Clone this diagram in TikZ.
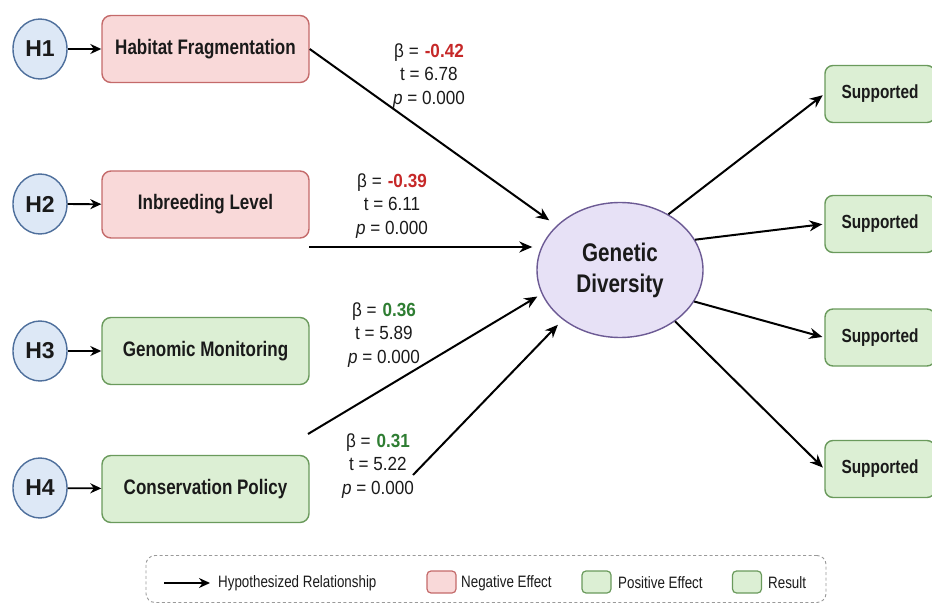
\documentclass[tikz,border=0pt]{standalone}
\usepackage{fontspec}
\setmainfont{Liberation Sans}
\newfontfamily\condf{Liberation Sans}[FakeStretch=0.81]
\newfontfamily\labf{Liberation Sans}[FakeStretch=0.9]
\usetikzlibrary{shapes.geometric,arrows.meta}
\definecolor{negfill}{HTML}{F9D9D9}
\definecolor{negdraw}{HTML}{C46A6A}
\definecolor{posfill}{HTML}{DCEFD4}
\definecolor{posdraw}{HTML}{6A9A5C}
\definecolor{hfill}{HTML}{DDE8F6}
\definecolor{hdraw}{HTML}{4E6F9C}
\definecolor{gdfill}{HTML}{E7E1F6}
\definecolor{gddraw}{HTML}{6C5A94}
\definecolor{negc}{HTML}{C62828}
\definecolor{posc}{HTML}{2E7D32}
\definecolor{txt}{HTML}{1A1A1A}
\definecolor{legdraw}{HTML}{9A9A9A}
\begin{document}
\begin{tikzpicture}[x=1pt,y=-1pt,
  hyp/.style={ellipse, draw=hdraw, fill=hfill, line width=1.4pt, minimum width=54pt, minimum height=60pt, inner sep=0pt, text=txt, font=\fontsize{23}{26}\selectfont\bfseries},
  var/.style={rectangle, rounded corners=9pt, line width=1.4pt, minimum width=207pt, minimum height=67pt, text=txt, font=\condf\fontsize{21}{25}\selectfont\bfseries},
  negbox/.style={var, draw=negdraw, fill=negfill},
  posbox/.style={var, draw=posdraw, fill=posfill},
  resbox/.style={rectangle, rounded corners=8pt, line width=1.4pt, draw=posdraw, fill=posfill, minimum width=110pt, minimum height=57pt, text=txt, font=\condf\fontsize{19}{23}\selectfont\bfseries},
  lab/.style={align=center, text=txt, font=\labf\fontsize{19}{23.5}\selectfont},
  arr/.style={-{Stealth[length=13pt,width=11pt]}, line width=2pt, black},
  sarr/.style={-{Stealth[length=11pt,width=10pt]}, line width=1.8pt, black},
  legtxt/.style={anchor=west, text=txt, inner sep=0pt, font=\condf\fontsize{16.5}{20}\selectfont},
  swatch/.style={rectangle, rounded corners=4pt, line width=1.2pt, minimum width=29pt, minimum height=22pt, inner sep=0pt}
]
\useasboundingbox (0,0) rectangle (932,604);

% hypotheses
\node[hyp] (h1) at (40,49) {H1};
\node[hyp] (h2) at (40,204) {H2};
\node[hyp] (h3) at (40,351) {H3};
\node[hyp] (h4) at (40,488) {H4};

% predictors
\node[negbox] (hf) at (205.5,49) {Habitat Fragmentation};
\node[negbox] (ib) at (205.5,204.5) {Inbreeding Level};
\node[posbox] (gm) at (205.5,351) {Genomic Monitoring};
\node[posbox] (cp) at (205.5,489) {Conservation Policy};

\draw[sarr] (h1) -- (hf);
\draw[sarr] (h2) -- (ib);
\draw[sarr] (h3) -- (gm);
\draw[sarr] (h4) -- (cp);

% outcome
\node[ellipse, draw=gddraw, fill=gdfill, line width=1.4pt, minimum width=166pt, minimum height=135pt, inner sep=0pt, align=center, text=txt, font=\condf\fontsize{25.5}{31}\selectfont\bfseries] (gd) at (620,270) {Genetic\\Diversity};

% results
\node[resbox] (s1) at (880,94) {Supported};
\node[resbox] (s2) at (880,224) {Supported};
\node[resbox] (s3) at (880,337.5) {Supported};
\node[resbox] (s4) at (880,469) {Supported};

% paths into outcome
\coordinate (c2) at (309,247);
\coordinate (c3) at (308,434);
\coordinate (c4) at (413,475);
\draw[arr, shorten >=9pt] (hf.east) -- (gd.145);
\draw[arr, shorten >=4pt] (c2) -- (c2 -| gd.west);
\draw[arr, shorten >=5pt] (c3) -- (gd.197);
\draw[arr, shorten >=7pt] (c4) -- (gd.221);

% paths to results
\draw[arr, shorten >=2pt] (gd.49) -- (s1.west);
\draw[arr, shorten >=2pt] (gd.22) -- (s2.west);
\draw[arr, shorten >=2pt] (gd.-23) -- (s3.west);
\draw[arr, shorten >=2pt] (gd.-43) -- (s4.west);

% coefficient labels
\node[lab] (l1) at (429,76) {β =\hspace{6pt}\textcolor{negc}{\textbf{-0.42}}\\t = 6.78\\\textit{p} = 0.000};
\node[lab] (l2) at (392,206) {β =\hspace{6pt}\textcolor{negc}{\textbf{-0.39}}\\t = 6.11\\\textit{p} = 0.000};
\node[lab] (l3) at (384,335) {β =\hspace{6pt}\textcolor{posc}{\textbf{0.36}}\\t = 5.89\\\textit{p} = 0.000};
\node[lab] (l4) at (378,466) {β =\hspace{6pt}\textcolor{posc}{\textbf{0.31}}\\t = 5.22\\\textit{p} = 0.000};

% legend
\node[draw=legdraw, dash pattern=on 3pt off 2.5pt, line width=0.9pt, rounded corners=9pt, minimum width=680pt, minimum height=47pt, inner sep=0pt] (leg) at (486,579) {};
\coordinate (la1) at (164,583);
\coordinate (la2) at (210,583);
\draw[sarr, line width=1.5pt] (la1) -- (la2);
\node[legtxt] (lt1) at (218,583) {Hypothesized Relationship};
\node[swatch, draw=negdraw, fill=negfill] (sw1) at (441.5,582) {};
\node[legtxt] (lt2) at (461,583) {Negative Effect};
\node[swatch, draw=posdraw, fill=posfill] (sw2) at (596.5,582) {};
\node[legtxt] (lt3) at (618,583) {Positive Effect};
\node[swatch, draw=posdraw, fill=posfill] (sw3) at (747,582) {};
\node[legtxt] (lt4) at (768,583) {Result};
\end{tikzpicture}
\end{document}
